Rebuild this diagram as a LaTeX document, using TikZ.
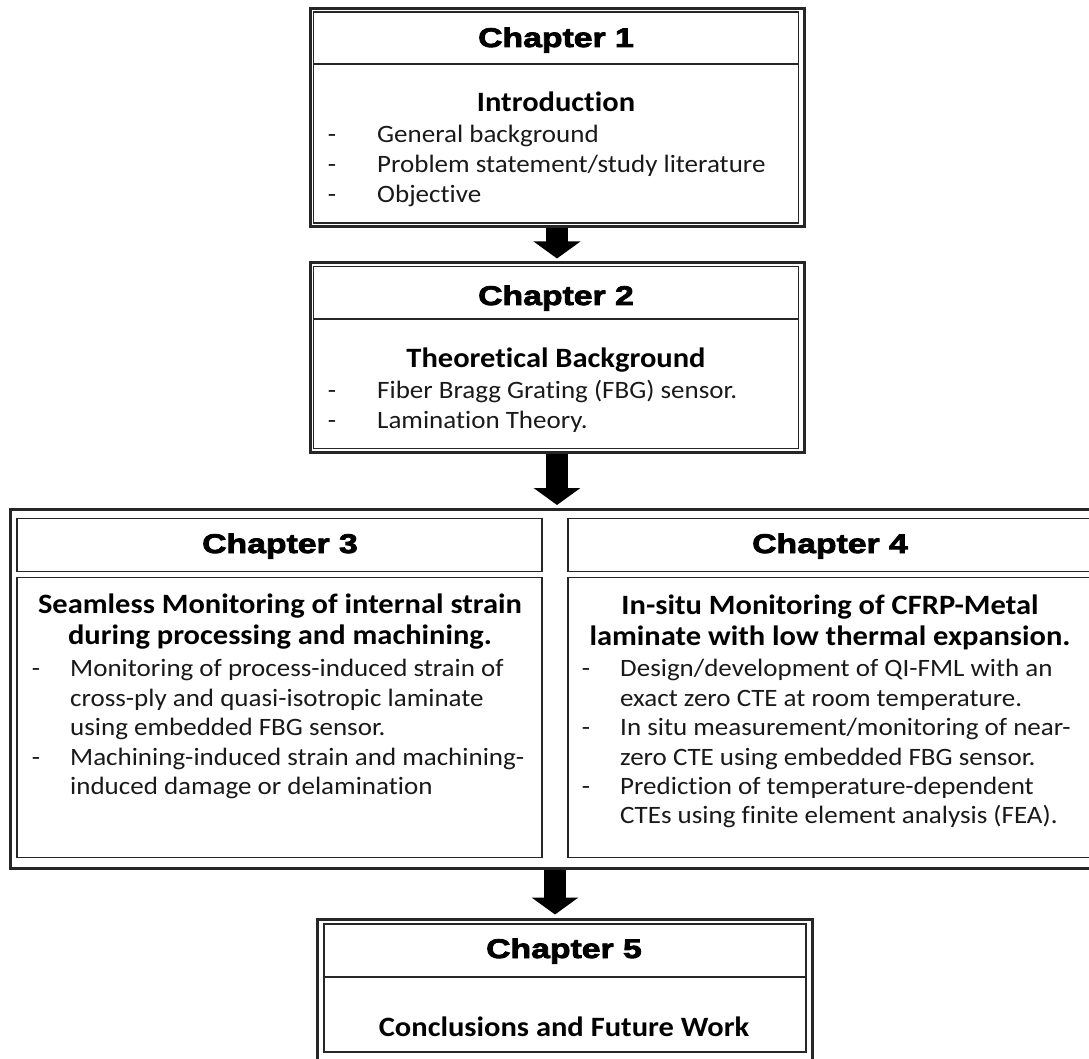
\documentclass[tikz,border=0pt]{standalone}
\usepackage{fontspec}
\setmainfont{Carlito}[Ligatures=NoCommon]
\newfontfamily\bodyfont{Carlito}[FakeStretch=1.08,Ligatures=NoCommon]
\newfontfamily\headfont{Carlito}[FakeStretch=1.09,Ligatures=NoCommon]
\newfontfamily\heavyfont{Liberation Sans}[BoldFont={Liberation Sans Bold},BoldFeatures={FakeBold=3,FakeStretch=1.25}]
\usetikzlibrary{arrows.meta}

\begin{document}
\begin{tikzpicture}[x=1pt,y=-1pt,
  frame/.style={draw=black!85, line width=3pt, inner sep=0pt},
  cell/.style={draw=black!85, line width=1.5pt, inner sep=0pt},
  chap/.style={anchor=base, inner sep=0pt, font=\heavyfont\bfseries\fontsize{27}{32}\selectfont},
  head/.style={anchor=base, inner sep=0pt, font=\headfont\bfseries\fontsize{28}{33}\selectfont},
  item/.style={anchor=base west, inner sep=0pt, font=\bodyfont\fontsize{25}{30}\selectfont, text=black!90},
  bul/.style={anchor=base, inner sep=0pt, font=\bodyfont\fontsize{25}{30}\selectfont, text=black!90},
  flow/.style={line width=22pt, -{Triangle[width=46pt,length=17pt]}, draw=black, fill=black}
]
\useasboundingbox (0,0) rectangle (1089,1059);
\clip (0,0) rectangle (1089,1059);

% ---------- Chapter 1 ----------
\node[frame, minimum width=494pt, minimum height=218pt] (ch1) at (557,117.5) {};
\node[cell, minimum width=485pt, minimum height=211pt] (ch1in) at (556,117.5) {};
\draw[line width=1.2pt, black!85] (ch1in.west |- 0,64) -- (ch1in.east |- 0,64);
\node[chap] (t1) at (556,47) {Chapter 1};
\node[head] (h1) at (556,112) {Introduction};
\foreach \y/\t in {143/{General background}, 173/{Problem statement/study literature}, 203/{Objective}}{
  \node[bul] at (332,\y) {-};
  \node[item] at (377,\y) {\t};
}

% ---------- Chapter 2 ----------
\node[frame, minimum width=494pt, minimum height=189pt] (ch2) at (557,357.5) {};
\node[cell, minimum width=485pt, minimum height=182pt] (ch2in) at (556,357.5) {};
\draw[line width=1.2pt, black!85] (ch2in.west |- 0,319) -- (ch2in.east |- 0,319);
\node[chap] (t2) at (556,305) {Chapter 2};
\node[head] (h2) at (556,367) {Theoretical Background};
\foreach \y/\t in {398/{Fiber Bragg Grating (FBG) sensor.}, 428/{Lamination Theory.}}{
  \node[bul] at (332,\y) {-};
  \node[item] at (377,\y) {\t};
}

% ---------- Chapters 3 and 4 ----------
\node[frame, minimum width=1090pt, minimum height=359pt] (ch34) at (555,689) {};
\node[cell, minimum width=525pt, minimum height=53pt] (ch3h) at (279.5,545) {};
\node[cell, minimum width=525pt, minimum height=280pt] (ch3b) at (279.5,717.5) {};
\node[cell, minimum width=525pt, minimum height=53pt] (ch4h) at (830.5,545) {};
\node[cell, minimum width=525pt, minimum height=280pt] (ch4b) at (830.5,717.5) {};

\node[chap] (t3) at (280,553) {Chapter 3};
\node[head] at (280,613) {Seamless Monitoring of internal strain};
\node[head] at (280,644) {during processing and machining.};
\foreach \y/\t in {676/{Monitoring of process-induced strain of}, 706/{cross-ply and quasi-isotropic laminate},
  735/{using embedded FBG sensor.}, 765/{Machining-induced strain and machining-}, 794/{induced damage or delamination}}{
  \node[item] at (70,\y) {\t};
}
\foreach \y in {676,765}{ \node[bul] at (36,\y) {-}; }

\node[chap] (t4) at (830,553) {Chapter 4};
\node[head] at (830,614) {In-situ Monitoring of CFRP-Metal};
\node[head] at (830,645) {laminate with low thermal expansion.};
\foreach \y/\t in {676/{Design/development of QI-FML with an}, 706/{exact zero CTE at room temperature.},
  735/{In situ measurement/monitoring of near-}, 765/{zero CTE using embedded FBG sensor.},
  794/{Prediction of temperature-dependent}, 823/{CTEs using finite element analysis (FEA).}}{
  \node[item] at (620,\y) {\t};
}
\foreach \y in {676,735,794}{ \node[bul] at (586,\y) {-}; }

% ---------- Chapter 5 ----------
\node[frame, minimum width=495pt, minimum height=148pt] (ch5) at (564.5,993) {};
\node[cell, minimum width=482pt, minimum height=128pt] (ch5in) at (565,988) {};
\draw[line width=1.2pt, black!85] (ch5in.west |- 0,977) -- (ch5in.east |- 0,977);
\node[chap] (t5) at (564,958) {Chapter 5};
\node[head] (h5) at (564,1036) {Conclusions and Future Work};

% ---------- flow arrows ----------
\draw[flow, shorten >=3pt] (ch1.south) -- (ch2.north);
\draw[flow, shorten >=3pt] (ch2.south) -- (ch2.south |- ch34.north);
\draw[flow, shorten >=3pt] (ch34.south) -- (ch34.south |- ch5.north);
\end{tikzpicture}
\end{document}
